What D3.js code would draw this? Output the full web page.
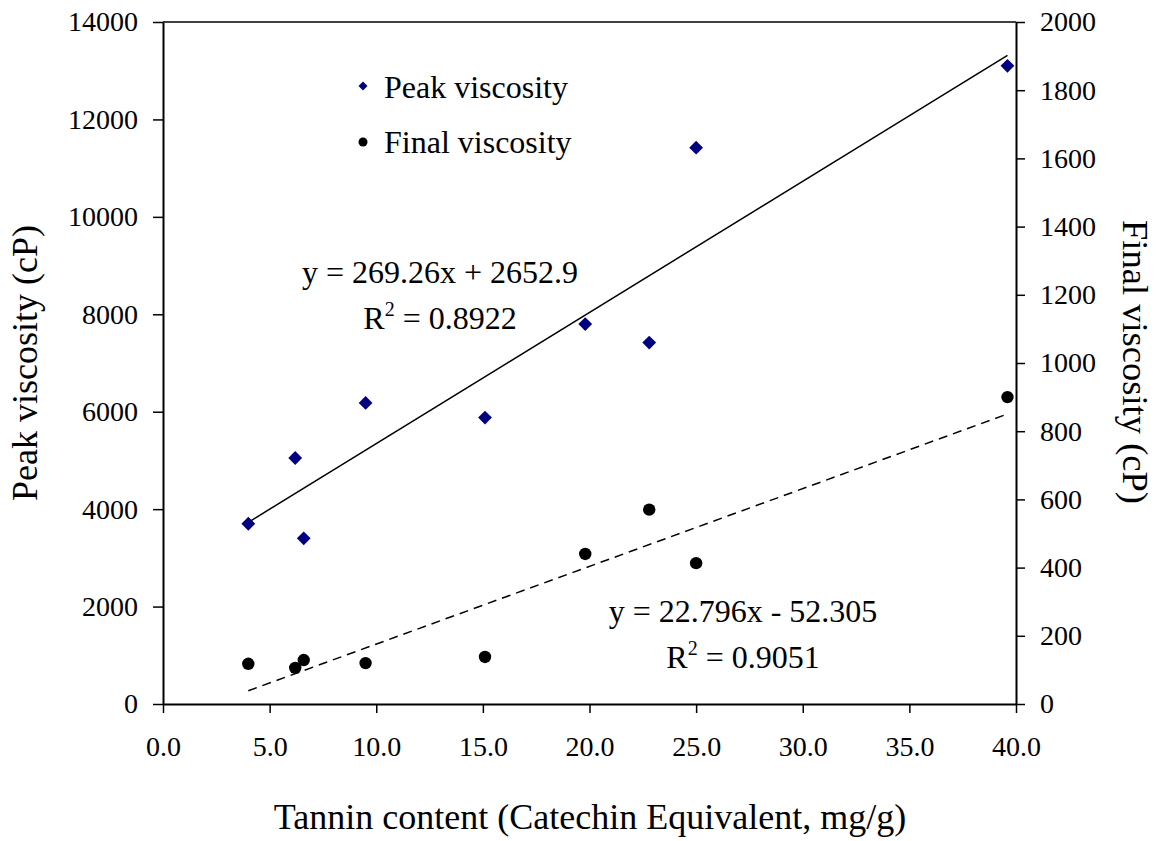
<!DOCTYPE html>
<html><head><meta charset="utf-8">
<script src="https://cdn.jsdelivr.net/npm/d3@7"></script>
<style>body{margin:0;background:#fff}svg{display:block}text{font-family:"Liberation Serif","Times New Roman",serif;fill:#000}</style>
</head><body><svg id="c" width="1164" height="841"></svg>
<script>
const tannin = [4.0, 6.2, 6.6, 9.5, 15.1, 19.8, 22.8, 25.0, 39.6];
const peakViscosity = [3700, 5050, 3400, 6180, 5880, 7800, 7420, 11420, 13100];
const finalViscosity = [118, 106, 129, 120, 138, 440, 570, 413, 900];
const xTicks = [0, 5, 10, 15, 20, 25, 30, 35, 40];
const leftTicks = [0, 2000, 4000, 6000, 8000, 10000, 12000, 14000];
const rightTicks = [0, 200, 400, 600, 800, 1000, 1200, 1400, 1600, 1800, 2000];
const peakFit = {slope: 269.26, intercept: 2652.9, label: "y = 269.26x + 2652.9", r2: "0.8922"};
const finalFit = {slope: 22.796, intercept: -52.305, label: "y = 22.796x - 52.305", r2: "0.9051"};

const svg = d3.select("#c");
const L = 163, R = 1016, T = 22, B = 704;
const x = d3.scaleLinear().domain([0, 40]).range([L, R]);
const yL = d3.scaleLinear().domain([0, 14000]).range([B, T]);
const yR = d3.scaleLinear().domain([0, 2000]).range([B, T]);
const FONT = "Liberation Serif, Times New Roman, serif";

function styleAxis(g){
  g.attr("font-family", FONT);
  g.selectAll("path").attr("stroke","#000").attr("stroke-width",2);
  g.selectAll("line").attr("stroke","#000").attr("stroke-width",1.5);
  g.selectAll("text").attr("font-size",28);
}
svg.append("g").attr("transform",`translate(0,${B})`)
  .call(d3.axisBottom(x).tickValues(xTicks).tickFormat(d3.format(".1f")).tickSize(9).tickSizeOuter(0).tickPadding(23))
  .call(styleAxis);
svg.append("g").attr("transform",`translate(${L},0)`)
  .call(d3.axisLeft(yL).tickValues(leftTicks).tickFormat(d=>d).tickSize(10).tickSizeOuter(0).tickPadding(15))
  .call(styleAxis);
svg.append("g").attr("transform",`translate(${R},0)`)
  .call(d3.axisRight(yR).tickValues(rightTicks).tickFormat(d=>d).tickSize(9).tickSizeOuter(0).tickPadding(15))
  .call(styleAxis);
svg.append("line").attr("x1",L).attr("x2",R).attr("y1",T).attr("y2",T).attr("stroke","#000").attr("stroke-width",1.5);

// trend lines
const xmin = d3.min(tannin), xmax = d3.max(tannin);
const line = d3.line();
svg.append("path").attr("d", line([[x(xmin), yL(peakFit.slope*xmin+peakFit.intercept)],[x(xmax), yL(peakFit.slope*xmax+peakFit.intercept)]]))
  .attr("stroke","#000").attr("stroke-width",1.5).attr("fill","none");
svg.append("path").attr("d", line([[x(xmin), yR(finalFit.slope*xmin+finalFit.intercept)],[x(xmax), yR(finalFit.slope*xmax+finalFit.intercept)]]))
  .attr("stroke","#000").attr("stroke-width",1.5).attr("fill","none").attr("stroke-dasharray","9,6");

// points
const diamond = d3.symbol().type(d3.symbolSquare).size(95);
svg.append("g").selectAll("path").data(tannin).join("path")
  .attr("d", diamond).attr("fill","#000080")
  .attr("transform",(d,i)=>`translate(${x(d)},${yL(peakViscosity[i])}) rotate(45)`);
svg.append("g").selectAll("circle").data(tannin).join("circle")
  .attr("cx",d=>x(d)).attr("cy",(d,i)=>yR(finalViscosity[i])).attr("r",6.2).attr("fill","#000");

// legend
svg.append("path").attr("d", d3.symbol().type(d3.symbolSquare).size(40)).attr("fill","#000080")
  .attr("transform","translate(363,86) rotate(45)");
svg.append("text").attr("x",384).attr("y",98).attr("font-size",32).text("Peak viscosity");
svg.append("circle").attr("cx",363).attr("cy",142).attr("r",4.5).attr("fill","#000");
svg.append("text").attr("x",384).attr("y",153).attr("font-size",32).text("Final viscosity");

// equations
function eq(cx, cy, fit){
  svg.append("text").attr("x",cx).attr("y",cy).attr("text-anchor","middle").attr("font-size",32).text(fit.label);
  const t = svg.append("text").attr("x",cx).attr("y",cy+46).attr("text-anchor","middle").attr("font-size",32);
  t.append("tspan").text("R");
  t.append("tspan").attr("font-size",20).attr("dy",-13).text("2");
  t.append("tspan").attr("dy",13).text(" = " + fit.r2);
}
eq(440, 283, peakFit);
eq(743, 622, finalFit);

// axis titles
svg.append("text").attr("x",590).attr("y",829).attr("text-anchor","middle").attr("font-size",36)
  .text("Tannin content (Catechin Equivalent, mg/g)");
svg.append("text").attr("transform","translate(37,363) rotate(-90)").attr("text-anchor","middle").attr("font-size",36)
  .text("Peak viscosity (cP)");
svg.append("text").attr("transform","translate(1123,362) rotate(90)").attr("text-anchor","middle").attr("font-size",36.5)
  .text("Final viscosity (cP)");
</script></body></html>
